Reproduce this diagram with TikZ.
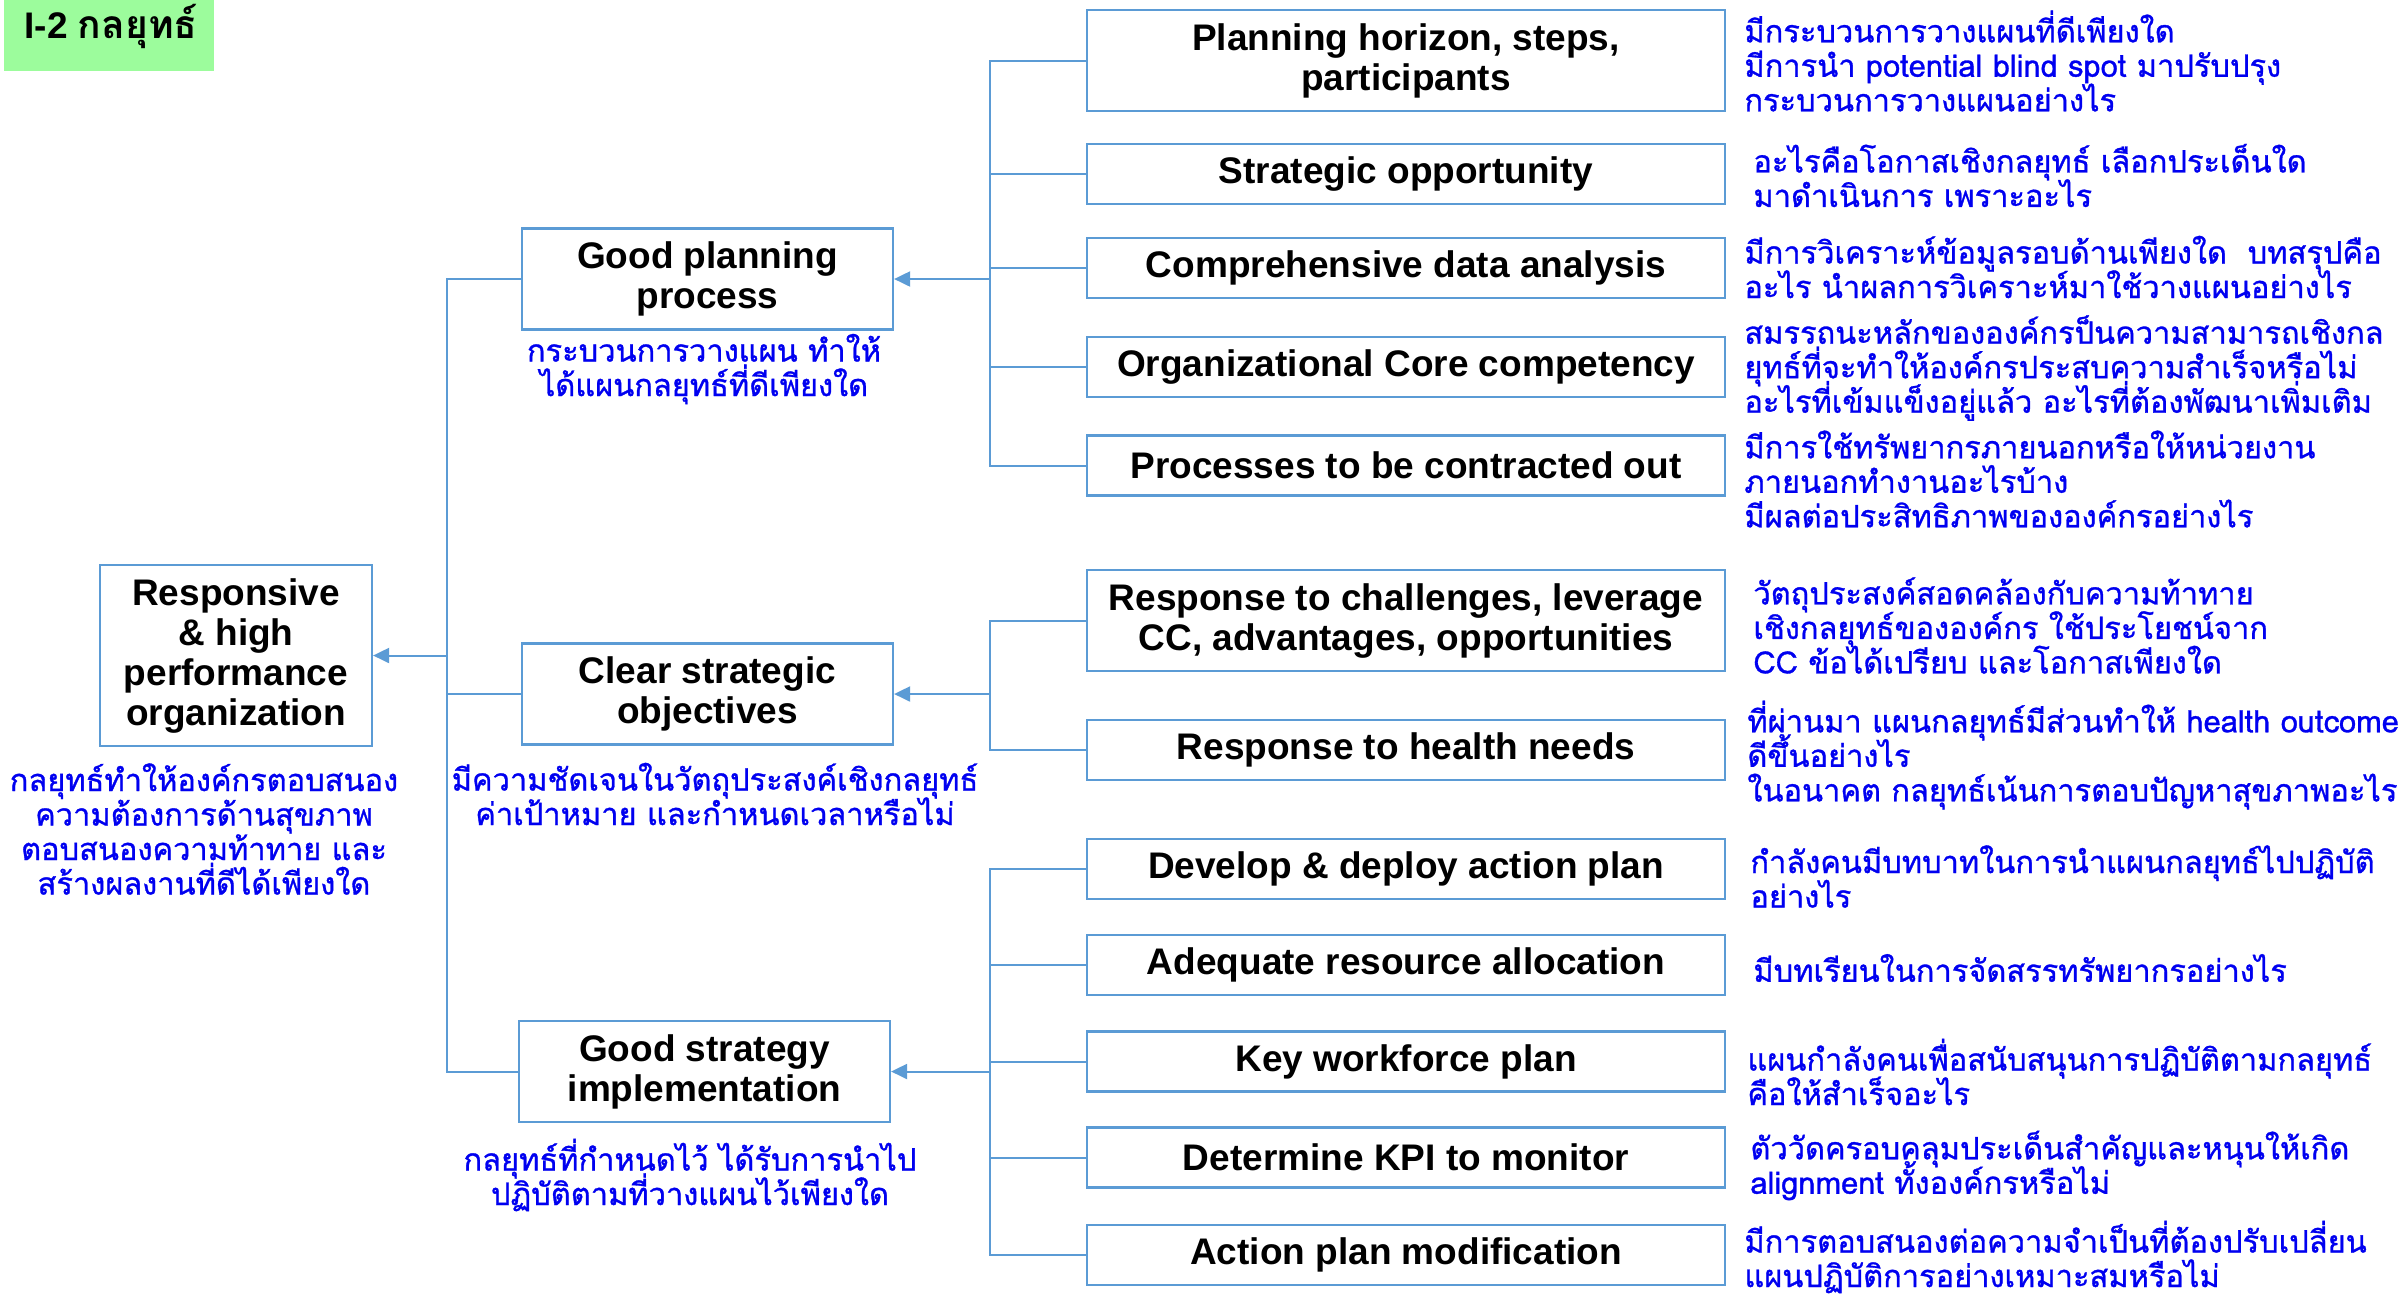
\documentclass[tikz,border=0pt]{standalone}
\usepackage{fontspec}
\setmainfont{Liberation Sans}
\newfontfamily\thaifont[Script=Thai]{Loma}
\newfontfamily\thainote[Script=Thai,FakeBold=1]{Loma}
\newcommand\notefmt{\thainote\fontsize{15.4}{17.25}\selectfont\lineskiplimit=-30pt\relax\lineskip=0pt\relax}
\usetikzlibrary{arrows.meta}
\definecolor{lineblue}{HTML}{5B9BD5}
\definecolor{txtblue}{HTML}{0000F0}
\definecolor{titlegreen}{HTML}{9CFC9C}
\begin{document}
\begin{tikzpicture}[x=0.5pt,y=-0.5pt,
  box/.style={draw=lineblue, line width=1.1pt, rectangle, inner sep=0pt, align=center,
    font=\fontsize{18.5}{20}\selectfont\bfseries, text=black},
  lbox/.style={box, minimum width=185.5pt, minimum height=50.5pt},
  rbox/.style={box, minimum width=319pt, minimum height=30pt},
  rboxt/.style={box, minimum width=319pt, minimum height=50.5pt},
  conn/.style={draw=lineblue, line width=1pt},
  arr/.style={conn, -{Triangle[length=8pt,width=7.5pt]}},
  note/.style={inner sep=0pt, align=left, anchor=west, text=txtblue, font=\notefmt},
  capt/.style={inner sep=0pt, align=center, text=txtblue, font=\notefmt},
]
\useasboundingbox (0,0) rectangle (2407,1298);
\fill[white] (0,0) rectangle (2407,1298);

% title
\fill[titlegreen] (4,0) rectangle (214,71);
\node[anchor=west, inner sep=0pt, font=\fontsize{18.5}{20}\selectfont\bfseries] (title) at (24,26)
  {I-2 {\thaifont\bfseries\fontsize{19.5}{20}\selectfont กลยุทธ์}};

% left column
\node[box, minimum width=136pt, minimum height=90.5pt] (resp) at (236,655.5)
  {Responsive\\\& high\\performance\\organization};
\node[lbox] (gpp) at (707.5,279) {Good planning\\process};
\node[lbox] (cso) at (707.5,694) {Clear strategic\\objectives};
\node[lbox] (gsi) at (704.5,1071.5) {Good strategy\\implementation};

% captions
\node[capt] (capresp) at (204,829) {กลยุทธ์ทำให้องค์กรตอบสนอง\\ความต้องการด้านสุขภาพ\\ตอบสนองความท้าทาย และ\\สร้างผลงานที่ดีได้เพียงใด};
\node[capt] (capgpp) at (704,369) {กระบวนการวางแผน ทำให้\\ได้แผนกลยุทธ์ที่ดีเพียงใด};
\node[capt] (capcso) at (715,794) {มีความชัดเจนในวัตถุประสงค์เชิงกลยุทธ์\\ค่าเป้าหมาย และกำหนดเวลาหรือไม่};
\node[capt] (capgsi) at (690,1175) {กลยุทธ์ที่กำหนดไว้ ได้รับการนำไป\\ปฏิบัติตามที่วางแผนไว้เพียงใด};

% right column
\node[rboxt] (ph) at (1406,60.5) {Planning horizon, steps,\\participants};
\node[rbox] (so) at (1406,174) {Strategic opportunity};
\node[rbox] (cda) at (1406,268) {Comprehensive data analysis};
\node[rbox] (occ) at (1406,367) {Organizational Core competency};
\node[rbox] (pco) at (1406,465.5) {Processes to be contracted out};
\node[rboxt] (rc) at (1406,620.5) {Response to challenges, leverage\\CC, advantages, opportunities};
\node[rbox] (rh) at (1406,750) {Response to health needs};
\node[rbox] (dd) at (1406,869) {Develop \& deploy action plan};
\node[rbox] (ara) at (1406,965) {Adequate resource allocation};
\node[rbox] (kwp) at (1406,1061.5) {Key workforce plan};
\node[rbox] (kpi) at (1406,1157.5) {Determine KPI to monitor};
\node[rbox] (apm) at (1406,1255) {Action plan modification};

% notes
\node[note] (n1) at (1744,61) {มีกระบวนการวางแผนที่ดีเพียงใด\\มีการนำ potential blind spot มาปรับปรุง\\กระบวนการวางแผนอย่างไร};
\node[note] (n2) at (1753,175.5) {อะไรคือโอกาสเชิงกลยุทธ์ เลือกประเด็นใด\\มาดำเนินการ เพราะอะไร};
\node[note] (n3) at (1744,267) {มีการวิเคราะห์ข้อมูลรอบด้านเพียงใด\ \ บทสรุปคือ\\อะไร นำผลการวิเคราะห์มาใช้วางแผนอย่างไร};
\node[note] (n4) at (1744,368) {สมรรถนะหลักขององค์กรป็นความสามารถเชิงกล\\ยุทธ์ที่จะทำให้องค์กรประสบความสำเร็จหรือไม่\\อะไรที่เข้มแข็งอยู่แล้ว อะไรที่ต้องพัฒนาเพิ่มเติม};
\node[note] (n5) at (1744,479) {มีการใช้ทรัพยากรภายนอกหรือให้หน่วยงาน\\ภายนอกทำงานอะไรบ้าง\\มีผลต่อประสิทธิภาพขององค์กรอย่างไร};
\node[note] (n6) at (1753,625.5) {วัตถุประสงค์สอดคล้องกับความท้าทาย\\เชิงกลยุทธ์ขององค์กร ใช้ประโยชน์จาก\\CC ข้อได้เปรียบ และโอกาสเพียงใด};
\node[note] (n7) at (1747,755) {ที่ผ่านมา แผนกลยุทธ์มีส่วนทำให้ health outcome\\ดีขึ้นอย่างไร\\ในอนาคต กลยุทธ์เน้นการตอบปัญหาสุขภาพอะไร};
\node[note] (n8) at (1750,876.5) {กำลังคนมีบทบาทในการนำแผนกลยุทธ์ไปปฏิบัติ\\อย่างไร};
\node[note] (n9) at (1753,968) {มีบทเรียนในการจัดสรรทรัพยากรอย่างไร};
\node[note] (n10) at (1747,1072) {แผนกำลังคนเพื่อสนับสนุนการปฏิบัติตามกลยุทธ์\\คือให้สำเร็จอะไร};
\node[note] (n11) at (1750,1165.5) {ตัววัดครอบคลุมประเด็นสำคัญและหนุนให้เกิด\\alignment ทั้งองค์กรหรือไม่};
\node[note] (n12) at (1744,1257) {มีการตอบสนองต่อความจำเป็นที่ต้องปรับเปลี่ยน\\แผนปฏิบัติการอย่างเหมาะสมหรือไม่};

% connectors
\coordinate (j1) at (990,279);
\coordinate (j2) at (990,694);
\coordinate (j3) at (990,1071.5);
\coordinate (t) at (447,655.5);
\foreach \n in {ph,so,cda,occ,pco} \draw[conn] (\n.west) -| (j1);
\foreach \n in {rc,rh} \draw[conn] (\n.west) -| (j2);
\foreach \n in {dd,ara,kwp,kpi,apm} \draw[conn] (\n.west) -| (j3);
\draw[arr] (j1) -- (gpp.east);
\draw[arr] (j2) -- (cso.east);
\draw[arr] (j3) -- (gsi.east);
\foreach \n in {gpp,cso,gsi} \draw[conn] (\n.west) -| (t);
\draw[arr] (t) -- (resp.east);
\end{tikzpicture}
\end{document}
